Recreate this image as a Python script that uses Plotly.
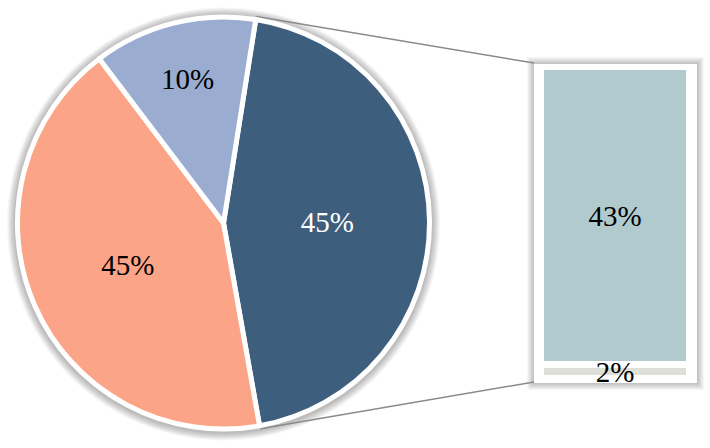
import math
import plotly.graph_objects as go

W, H = 710, 448

# main pie (clockwise from the top)
pie_labels = ["Other", "B", "A"]
pie_values = [44.7, 42.5, 12.8]
pie_text = ["45%", "45%", "10%"]
pie_colors = ["#3E5E7D", "#FCA487", "#9AACD0"]
pie_text_colors = ["white", "black", "black"]

# secondary stacked bar (bottom to top)
bar_labels = ["D", "C"]
bar_values = [2, 43]
bar_text = ["2%", "43%"]
bar_colors = ["#DEDFD6", "#B0CACE"]

rotation = 9
font_family = "Liberation Serif, Times New Roman, serif"

# pixel layout
cx, cy, R = 223.5, 223, 206
bx0, bx1, by0, by1 = 541, 690, 67, 379

fig = go.Figure()

fig.add_trace(go.Pie(
    labels=pie_labels,
    values=pie_values,
    text=pie_text,
    textinfo="text",
    textposition="inside",
    insidetextorientation="horizontal",
    sort=False,
    direction="clockwise",
    rotation=rotation,
    marker=dict(colors=pie_colors, line=dict(color="white", width=5)),
    textfont=dict(family=font_family, size=29, color=pie_text_colors),
    domain=dict(x=[(cx - R) / W, (cx + R) / W],
                y=[(H - cy - R) / H, (H - cy + R) / H]),
    hoverinfo="label+percent",
    showlegend=False,
))

# stacked by hand so the small segment (and its label) is drawn last
bases = [sum(bar_values[:i]) for i in range(len(bar_values))]
for i in reversed(range(len(bar_values))):
    fig.add_trace(go.Bar(
        x=[0], y=[bar_values[i]], base=[bases[i]], name=bar_labels[i],
        text=[bar_text[i]],
        textposition="inside", insidetextanchor="middle",
        constraintext="none", cliponaxis=False,
        width=1,
        marker=dict(color=bar_colors[i], line=dict(color="white", width=7)),
        textfont=dict(family=font_family, size=29, color="black"),
        xaxis="x2", yaxis="y2", showlegend=False,
    ))

shapes = []

# soft shadow around the pie
ro = R + 2.5
for k in range(8, 0, -1):
    shapes.append(dict(
        type="circle", layer="below",
        xref="paper", yref="paper",
        xsizemode="pixel", ysizemode="pixel",
        xanchor=cx / W, yanchor=(H - cy) / H,
        x0=-(ro + k), x1=ro + k, y0=-(ro + k) - 1, y1=ro + k - 1,
        fillcolor="rgba(0,0,0,0.035)", line=dict(width=0),
    ))

# white frame + shadow behind the bar
bw, bh = bx1 - bx0, by1 - by0
padx, padt, padb = 7, 4, 3
for k in range(7, -1, -1):
    fill = "white" if k == 0 else "rgba(0,0,0,0.035)"
    shapes.append(dict(
        type="rect", layer="below",
        xref="x2 domain", yref="y2 domain",
        x0=-(padx + k) / bw, x1=1 + (padx + k) / bw,
        y0=-(padb + k + 1) / bh, y1=1 + (padt + k - 1) / bh,
        fillcolor=fill, line=dict(width=0),
    ))

# connector lines from the slice edges of "Other" to the bar frame
a_start = math.radians(rotation)
a_end = math.radians(rotation + 360 * pie_values[0] / sum(pie_values))
for a, yb in [(a_start, by0 - padt), (a_end, by1 + padb)]:
    px = cx + (R + 3) * math.sin(a)
    py = cy - (R + 3) * math.cos(a)
    shapes.append(dict(
        type="line", layer="below", xref="paper", yref="paper",
        x0=px / W, y0=(H - py) / H, x1=(bx0 - padx) / W, y1=(H - yb) / H,
        line=dict(color="#8A8A8A", width=1.5),
    ))

fig.update_layout(
    width=W, height=H,
    margin=dict(l=0, r=0, t=0, b=0),
    paper_bgcolor="white", plot_bgcolor="rgba(0,0,0,0)",
    barmode="overlay", bargap=0,
    xaxis2=dict(domain=[bx0 / W, bx1 / W], range=[-0.5, 0.5], visible=False,
                fixedrange=True),
    yaxis2=dict(domain=[(H - by1) / H, (H - by0) / H], range=[0, sum(bar_values)],
                visible=False, fixedrange=True, anchor="x2"),
    shapes=shapes,
)

fig.write_html("out.html", config={"displayModeBar": False},
               post_script="document.body.style.margin='0';")
